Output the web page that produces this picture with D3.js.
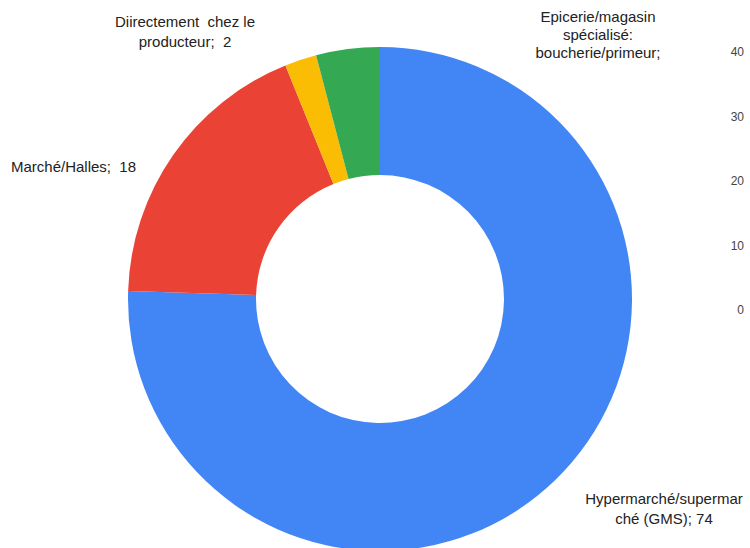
<!DOCTYPE html>
<html>
<head>
<meta charset="utf-8">
<script src="https://cdn.jsdelivr.net/npm/d3@7"></script>
<style>
  html, body { margin: 0; padding: 0; background: #fff; }
  svg text { font-family: "Liberation Sans", Arial, sans-serif; }
</style>
</head>
<body>
<div id="chart"></div>
<script>
// ── Data ───────────────────────────────────────────────────────────────────
const categories = [
  'Hypermarché/supermarché (GMS)',
  'Marché/Halles',
  'Diirectement chez le producteur',
  'Epicerie/magasin spécialisé: boucherie/primeur'
];
const values = [74, 18, 2, 4];
const colors = ['#4285f4', '#ea4335', '#fbbc04', '#34a853'];
// label text as it wraps in the picture (the last one is cut off)
const labelLines = [
  ['Hypermarché/supermar', 'ché (GMS); 74'],
  ['Marché/Halles;  18'],
  ['Diirectement  chez le', 'producteur;  2'],
  ['Epicerie/magasin', 'spécialisé:', 'boucherie/primeur;']
];
// leftover value axis on the right
const axisTicks = [0, 10, 20, 30, 40];

// ── Layout ─────────────────────────────────────────────────────────────────
const W = 750, H = 548;
const cx = 380, cy = 299;
const rOuter = 252, rInner = 124;

const svg = d3.select('#chart').append('svg')
  .attr('width', W).attr('height', H);

const pie = d3.pie().sort(null).value(d => d)
  .startAngle(0).endAngle(2 * Math.PI);
const arc = d3.arc().innerRadius(rInner).outerRadius(rOuter);

const g = svg.append('g').attr('transform', `translate(${cx},${cy})`);
g.selectAll('path').data(pie(values)).enter().append('path')
  .attr('d', arc)
  .attr('fill', (d, i) => colors[i]);

// Label anchors (baseline of first line), placed as in the picture.
const labelPos = [
  { x: 664, y: 504, lh: 19.5, anchor: 'middle' },
  { x: 11,  y: 172, lh: 19,   anchor: 'start' },
  { x: 185, y: 27,  lh: 19.5, anchor: 'middle' },
  { x: 598, y: 22,  lh: 18,   anchor: 'middle' }
];

labelLines.forEach((lines, i) => {
  const p = labelPos[i];
  const t = svg.append('text')
    .attr('x', p.x).attr('y', p.y)
    .attr('text-anchor', p.anchor)
    .attr('font-size', 15)
    .attr('fill', '#222');
  lines.forEach((s, j) => {
    t.append('tspan').attr('x', p.x).attr('dy', j === 0 ? 0 : p.lh)
      .attr('xml:space', 'preserve').text(s);
  });
});

// ── Right axis (labels only) ───────────────────────────────────────────────
const y = d3.scaleLinear().domain([0, 40]).range([310, 52]);
const axisG = svg.append('g').attr('transform', 'translate(744,0)')
  .call(d3.axisLeft(y).tickValues(axisTicks).tickSize(0).tickPadding(0));
axisG.select('.domain').remove();
axisG.selectAll('text')
  .attr('font-size', 12)
  .attr('font-family', '"Liberation Sans", Arial, sans-serif')
  .attr('fill', '#444');
</script>
</body>
</html>
